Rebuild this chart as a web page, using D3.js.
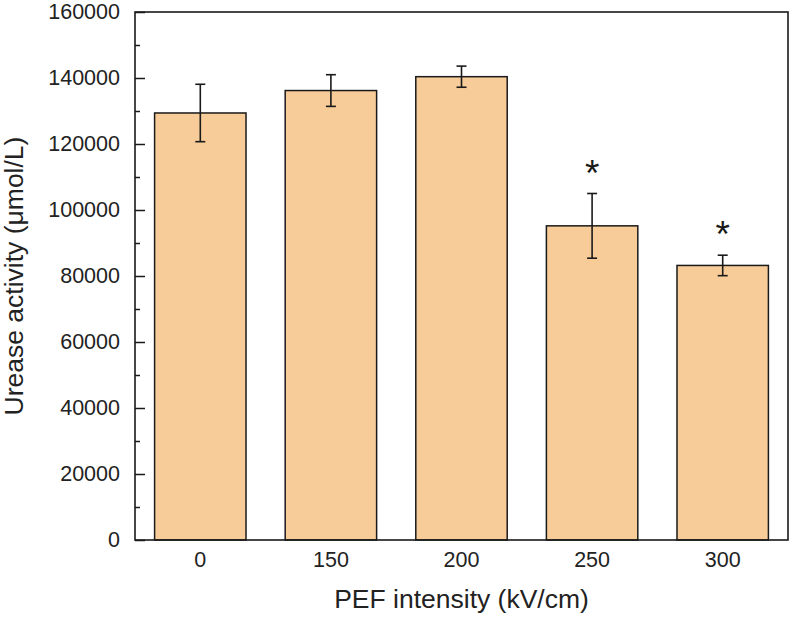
<!DOCTYPE html>
<html>
<head>
<meta charset="utf-8">
<script src="https://cdn.jsdelivr.net/npm/d3@7"></script>
<style>
  html, body { margin: 0; padding: 0; background: #fff; }
  svg { display: block; }
  text { font-family: Arial, "Liberation Sans", sans-serif; }
</style>
</head>
<body>
<svg id="chart" width="792" height="618"></svg>
<script>
// ---- data ----
const categories = ["0", "150", "200", "250", "300"];
const values = [129400, 136200, 140400, 95200, 83200];
const errors = [8700, 4800, 3200, 9800, 3100];
const significant = [false, false, false, true, true];
const yTicks = [0, 20000, 40000, 60000, 80000, 100000, 120000, 140000, 160000];
const yMinorTicks = [10000, 30000, 50000, 70000, 90000, 110000, 130000, 150000];

// ---- layout ----
const svg = d3.select("#chart");
const margin = { left: 135, right: 4, top: 12, bottom: 78 };
const W = 792, H = 618;
const x0 = margin.left, x1 = W - margin.right;
const y0 = H - margin.bottom, y1 = margin.top;

const x = d3.scaleBand().domain(categories).range([x0, x1]).paddingInner(0.3).paddingOuter(0.15);
const y = d3.scaleLinear().domain([0, 160000]).range([y0, y1]);

const textColor = "#222";

// bars
const data = categories.map((c, i) => ({ c, v: values[i], e: errors[i], s: significant[i] }));
svg.append("g").selectAll("rect").data(data).join("rect")
  .attr("x", d => x(d.c))
  .attr("y", d => y(d.v))
  .attr("width", x.bandwidth())
  .attr("height", d => y(0) - y(d.v))
  .attr("fill", "#f8cc98")
  .attr("stroke", "#1a1a1a")
  .attr("stroke-width", 1.5);

// error bars
const eg = svg.append("g").attr("stroke", "#1a1a1a").attr("stroke-width", 1.6).attr("fill", "none");
data.forEach(d => {
  const cx = x(d.c) + x.bandwidth() / 2;
  const cap = 5;
  eg.append("line").attr("x1", cx).attr("x2", cx).attr("y1", y(d.v + d.e)).attr("y2", y(d.v - d.e));
  eg.append("line").attr("x1", cx - cap).attr("x2", cx + cap).attr("y1", y(d.v + d.e)).attr("y2", y(d.v + d.e));
  eg.append("line").attr("x1", cx - cap).attr("x2", cx + cap).attr("y1", y(d.v - d.e)).attr("y2", y(d.v - d.e));
});

// significance stars
svg.append("g").selectAll("text").data(data.filter(d => d.s)).join("text")
  .attr("x", d => x(d.c) + x.bandwidth() / 2)
  .attr("y", d => y(d.v + d.e) - 8)
  .attr("text-anchor", "middle")
  .attr("font-size", 37)
  .attr("fill", "#1a1a1a")
  .text("*");

// y axis (ticks inward)
const yAxis = d3.axisLeft(y).tickValues(yTicks).tickSizeInner(-10).tickSizeOuter(0).tickPadding(15)
  .tickFormat(d3.format("d"));
const gy = svg.append("g").attr("transform", `translate(${x0},0)`).call(yAxis);
gy.select(".domain").remove();
gy.selectAll(".tick line").attr("stroke", "#1a1a1a").attr("stroke-width", 1.5);
gy.selectAll(".tick text").attr("font-size", 21.5).attr("fill", textColor)
  .attr("font-family", "Arial, 'Liberation Sans', sans-serif");

const yMinor = d3.axisLeft(y).tickValues(yMinorTicks).tickSizeInner(-5).tickSizeOuter(0).tickFormat("");
const gym = svg.append("g").attr("transform", `translate(${x0},0)`).call(yMinor);
gym.select(".domain").remove();
gym.selectAll(".tick line").attr("stroke", "#1a1a1a").attr("stroke-width", 1.5);

// x axis (no ticks)
const xAxis = d3.axisBottom(x).tickSize(0).tickPadding(12);
const gx = svg.append("g").attr("transform", `translate(0,${y0})`).call(xAxis);
gx.select(".domain").remove();
gx.selectAll(".tick text").attr("font-size", 21.5).attr("fill", textColor)
  .attr("font-family", "Arial, 'Liberation Sans', sans-serif");

// frame
svg.append("rect")
  .attr("x", x0).attr("y", y1).attr("width", x1 - x0).attr("height", y0 - y1)
  .attr("fill", "none").attr("stroke", "#1a1a1a").attr("stroke-width", 1.6);

// axis titles
svg.append("text")
  .attr("x", (x0 + x1) / 2).attr("y", 608)
  .attr("text-anchor", "middle").attr("font-size", 26.5).attr("fill", textColor)
  .text("PEF intensity (kV/cm)");

svg.append("text")
  .attr("transform", `translate(23,${(y0 + y1) / 2}) rotate(-90)`)
  .attr("text-anchor", "middle").attr("font-size", 26.5).attr("fill", textColor)
  .text("Urease activity (μmol/L)");
</script>
</body>
</html>
